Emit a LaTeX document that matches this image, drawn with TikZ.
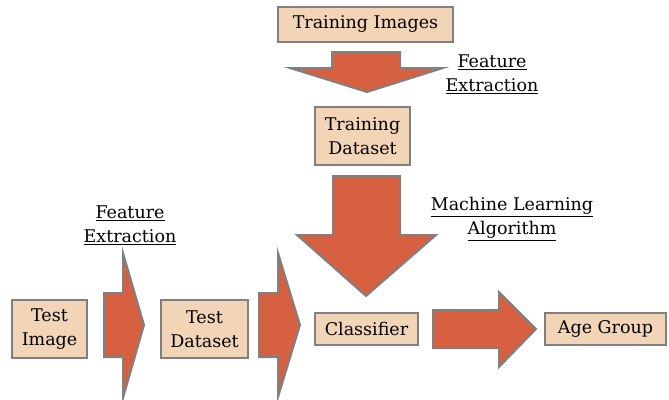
\documentclass[tikz,border=0pt]{standalone}
\usepackage{fontspec}
\setmainfont{DejaVu Serif}
\definecolor{boxfill}{RGB}{242,212,182}
\definecolor{edgegray}{RGB}{128,128,128}
\definecolor{arrowfill}{RGB}{214,96,64}
\begin{document}
\begin{tikzpicture}[x=1pt,y=-1pt,
  stagebox/.style={draw=edgegray,line width=2pt,fill=boxfill,inner sep=0pt,
    align=center,font=\fontsize{17.5}{24}\selectfont,text=black},
  blockarrow/.style={draw=edgegray,line width=2pt,fill=arrowfill,line join=miter},
  steplabel/.style={align=center,font=\fontsize{17.5}{24}\selectfont,text=black}]
\useasboundingbox (0,0) rectangle (669,399);

% stages
\node[stagebox,minimum width=175pt,minimum height=35pt] (trimg) at (365.5,24.5) {Training Images};
\node[stagebox,minimum width=95pt,minimum height=58pt] (trds) at (362.5,136) {Training\\Dataset};
\node[stagebox,minimum width=75pt,minimum height=58pt] (testimg) at (49.5,329) {Test\\Image};
\node[stagebox,minimum width=87pt,minimum height=58pt] (testds) at (204.5,329) {Test\\Dataset};
\node[stagebox,minimum width=103pt,minimum height=32pt] (clf) at (366.5,329) {Classifier};
\node[stagebox,minimum width=121pt,minimum height=32pt] (age) at (605.5,329) {Age Group};

% block arrows between the stages
\draw[blockarrow] (332,52) -- (400,52) -- (400,68) -- (443,68) -- (367,92)
  -- (290,68) -- (332,68) -- cycle;
\draw[blockarrow] (333,176) -- (400,176) -- (400,235) -- (436,235) -- (366,296)
  -- (297,235) -- (333,235) -- cycle;
\draw[blockarrow] (104,293) -- (123,293) -- (123,253) -- (144,325) -- (123,398)
  -- (123,357) -- (104,357) -- cycle;
\draw[blockarrow] (259,293) -- (278,293) -- (278,253) -- (300,325) -- (278,397)
  -- (278,357) -- (259,357) -- cycle;
\draw[blockarrow] (433,310) -- (499,310) -- (499,292) -- (536,329) -- (499,367)
  -- (499,348) -- (433,348) -- cycle;

% step labels
\node[steplabel] (fetrain) at (492,74) {\underline{Feature}\\\underline{Extraction}};
\node[steplabel] (fetest) at (130,225) {\underline{Feature}\\\underline{Extraction}};
\node[steplabel] (mla) at (512,219) {\underline{Machine Learning}\\\underline{Algorithm}};
\end{tikzpicture}
\end{document}
